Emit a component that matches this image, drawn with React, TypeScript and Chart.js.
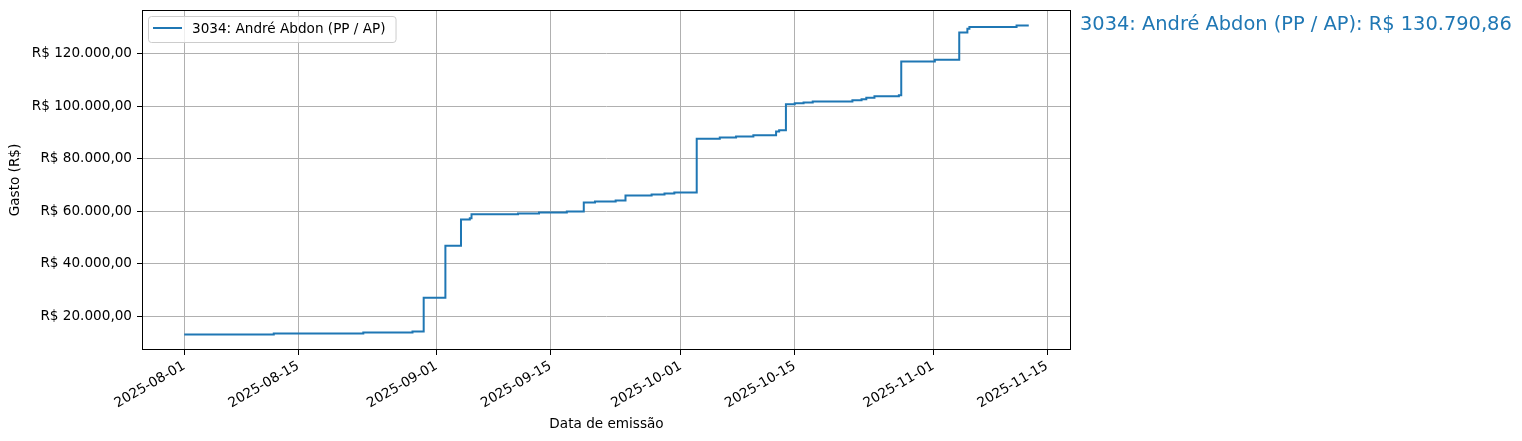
import React, { useEffect, useRef } from 'react';
import Chart from 'chart.js/auto';

// cumulative spend, one point per step (date of the emission -> running total)
const stepDates = [
  '2025-08-01', '2025-08-12', '2025-08-23', '2025-08-29 01:00', '2025-08-30 10:00',
  '2025-09-02 02:00', '2025-09-04', '2025-09-05 02:00', '2025-09-05 07:00', '2025-09-11',
  '2025-09-13 14:00', '2025-09-17', '2025-09-19 02:00', '2025-09-20 11:00', '2025-09-23',
  '2025-09-24 05:00', '2025-09-27 10:00', '2025-09-29', '2025-09-30 05:00', '2025-10-02 23:00',
  '2025-10-05 19:00', '2025-10-07 19:00', '2025-10-09 22:00', '2025-10-12 17:00', '2025-10-13 02:00',
  '2025-10-13 22:00', '2025-10-15', '2025-10-16 02:00', '2025-10-17 05:00', '2025-10-22 02:00',
  '2025-10-23 05:00', '2025-10-23 19:00', '2025-10-24 19:00', '2025-10-27 19:00', '2025-10-28 02:00',
  '2025-11-01 05:00', '2025-11-04 05:00', '2025-11-05 05:00', '2025-11-05 11:00', '2025-11-11 06:00',
  '2025-11-12 18:00',
];
const stepTotals = [
  12940, 13360, 13740, 14120, 26990,
  46830, 56760, 57250, 58780, 59050,
  59430, 59810, 63250, 63630, 64010,
  65920, 66300, 66690, 67070, 87560,
  88060, 88440, 88930, 90350, 90840,
  100770, 101150, 101420, 101800, 102300,
  102680, 103210, 103820, 104200, 117070,
  117720, 128140, 129550, 130160, 130790.86,
  130790.86,
];
const xTickDates = [
  '2025-08-01', '2025-08-15', '2025-09-01', '2025-09-15',
  '2025-10-01', '2025-10-15', '2025-11-01', '2025-11-15',
];
const yTickValues = [20000, 40000, 60000, 80000, 100000, 120000];
const seriesLabel = '3034: André Abdon (PP / AP)';

const BLUE = '#1f77b4';
const FONT = '"DejaVu Sans", sans-serif';
const START = Date.UTC(2025, 7, 1);

const toDay = (s: string) => {
  const [d, t = '00:00'] = s.split(' ');
  const [y, m, dd] = d.split('-').map(Number);
  const [h, mi] = t.split(':').map(Number);
  return (Date.UTC(y, m - 1, dd, h, mi) - START) / 86400000;
};
const fromDay = (v: number) =>
  new Date(START + Math.round(v) * 86400000).toISOString().slice(0, 10);

const brl = (v: number) => {
  const [int, dec] = v.toFixed(2).split('.');
  return 'R$ ' + int.replace(/\B(?=(\d{3})+(?!\d))/g, '.') + ',' + dec;
};

const framePlugin = {
  id: 'frame',
  afterDatasetsDraw(chart: any) {
    const { ctx, chartArea: a } = chart;
    ctx.save();
    ctx.strokeStyle = '#000';
    ctx.lineWidth = 1;
    ctx.strokeRect(a.left + 0.5, a.top + 0.5, a.right - a.left - 1, a.bottom - a.top - 1);
    ctx.restore();
  },
};

const legendPlugin = {
  id: 'boxLegend',
  afterDraw(chart: any) {
    const { ctx, chartArea: a } = chart;
    const x = a.left + 6;
    const y = a.top + 6;
    ctx.save();
    ctx.font = `13.6px ${FONT}`;
    const w = ctx.measureText(seriesLabel).width + 54;
    const h = 26;
    ctx.beginPath();
    ctx.roundRect(x + 0.5, y + 0.5, w, h, 3);
    ctx.fillStyle = 'rgba(255,255,255,0.8)';
    ctx.fill();
    ctx.strokeStyle = '#cccccc';
    ctx.lineWidth = 1;
    ctx.stroke();
    ctx.strokeStyle = BLUE;
    ctx.lineWidth = 2;
    ctx.beginPath();
    ctx.moveTo(x + 5, y + 12);
    ctx.lineTo(x + 34, y + 12);
    ctx.stroke();
    ctx.fillStyle = '#000';
    ctx.textBaseline = 'middle';
    ctx.fillText(seriesLabel, x + 44, y + 13);
    ctx.restore();
  },
};

const totalPlugin = {
  id: 'totalNote',
  afterDraw(chart: any) {
    const { ctx, chartArea: a } = chart;
    const last = stepTotals[stepTotals.length - 1];
    ctx.save();
    ctx.font = `19.4px ${FONT}`;
    ctx.fillStyle = BLUE;
    ctx.textBaseline = 'alphabetic';
    ctx.fillText(`${seriesLabel}: ${brl(last)}`, a.right + 9, 30);
    ctx.restore();
  },
};

const App: React.FC = () => {
  const chartRef = useRef<HTMLCanvasElement>(null);

  useEffect(() => {
    document.body.style.margin = '0';
    if (!chartRef.current) return;

    const points = stepDates.map((d, i) => ({ x: toDay(d), y: stepTotals[i] }));
    const xs = points.map(p => p.x);
    const xLo = Math.min(...xs), xHi = Math.max(...xs);
    const yLo = Math.min(...stepTotals), yHi = Math.max(...stepTotals);
    const xPad = (xHi - xLo) * 0.05;
    const yPad = (yHi - yLo) * 0.05;

    const chartInstance = new Chart(chartRef.current, {
      type: 'line',
      data: {
        datasets: [
          {
            label: seriesLabel,
            data: points,
            borderColor: BLUE,
            borderWidth: 2,
            pointRadius: 0,
            stepped: 'before',
            fill: false,
          },
        ],
      },
      options: {
        animation: false,
        responsive: false,
        font: { family: FONT },
        layout: { padding: { top: 10, right: 451, left: 0, bottom: 0 } },
        plugins: { legend: { display: false }, tooltip: { enabled: false } },
        scales: {
          x: {
            type: 'linear',
            min: xLo - xPad,
            max: xHi + xPad,
            afterBuildTicks: (s: any) => {
              s.ticks = xTickDates.map(d => ({ value: toDay(d) }));
            },
            afterFit: (s: any) => {
              s.height = 91;
              s.paddingLeft = 0;
              s.paddingRight = 0;
            },
            ticks: {
              autoSkip: false,
              minRotation: 30,
              maxRotation: 30,
              padding: 3,
              color: '#000',
              font: { family: FONT, size: 13.6 },
              callback: (v: any) => fromDay(Number(v)),
            },
            grid: { color: '#b0b0b0', lineWidth: 1, tickColor: '#000', tickLength: 5 },
            border: { display: false },
            title: {
              display: true,
              text: 'Data de emissão',
              color: '#000',
              font: { family: FONT, size: 13.6 },
              padding: { top: 0, bottom: 8 },
            },
          },
          y: {
            type: 'linear',
            min: yLo - yPad,
            max: yHi + yPad,
            afterBuildTicks: (s: any) => {
              s.ticks = yTickValues.map(v => ({ value: v }));
            },
            afterFit: (s: any) => {
              s.width = 142;
              s.paddingTop = 0;
              s.paddingBottom = 0;
            },
            ticks: {
              padding: 5,
              color: '#000',
              font: { family: FONT, size: 13.6 },
              callback: (v: any) => brl(Number(v)),
            },
            grid: { color: '#b0b0b0', lineWidth: 1, tickColor: '#000', tickLength: 5 },
            border: { display: false },
            title: {
              display: true,
              text: 'Gasto (R$)',
              color: '#000',
              font: { family: FONT, size: 13.6 },
              padding: { top: 7, bottom: 0 },
            },
          },
        },
      },
      plugins: [framePlugin, legendPlugin, totalPlugin],
    });

    return () => {
      chartInstance.destroy();
    };
  }, []);

  return (
    <div style={{ width: 1522, height: 441 }}>
      <canvas ref={chartRef} width={1522} height={441} />
    </div>
  );
};

export default App;
